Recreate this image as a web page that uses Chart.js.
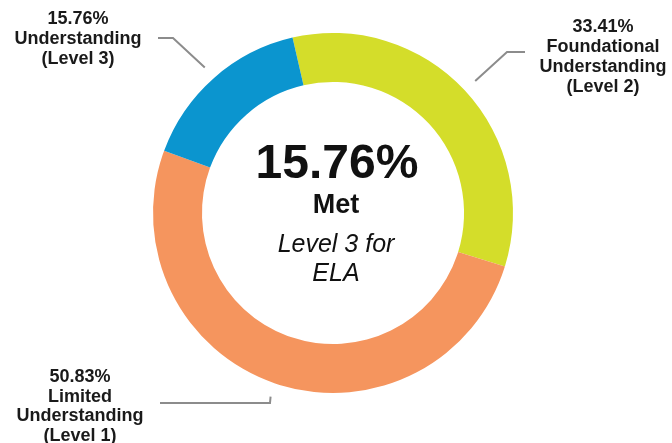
<!DOCTYPE html>
<html>
<head>
<meta charset="utf-8">
<script src="https://cdn.jsdelivr.net/npm/chart.js@4"></script>
<style>
  html, body { margin: 0; padding: 0; background: #ffffff; }
  #wrap { width: 672px; height: 443px; position: relative; }
</style>
</head>
<body>
<div id="wrap"><canvas id="elaChart" width="672" height="443"></canvas></div>
<script>
// ================================
// DATA
// ================================
const levels = ["Foundational Understanding (Level 2)", "Limited Understanding (Level 1)", "Understanding (Level 3)"];
const percents = [33.41, 50.83, 15.76];
const labelLines = [
  ["33.41%", "Foundational", "Understanding", "(Level 2)"],
  ["50.83%", "Limited", "Understanding", "(Level 1)"],
  ["15.76%", "Understanding", "(Level 3)"]
];
const colors = ["#d4dd2a", "#f5955e", "#0b95cf"];
const centerLines = ["15.76%", "Met", "Level 3 for", "ELA"];

// ================================
// LABEL LAYOUT (where callouts sit)
// ================================
const callouts = [
  { elbowX: 507, elbowY: 52, endX: 525, textX: 603, firstBase: 32, lineH: 20 },
  { elbowX: 270, elbowY: 403, endX: 160, textX: 80, firstBase: 382, lineH: 19.5 },
  { elbowX: 173, elbowY: 38, endX: 158, textX: 78, firstBase: 24, lineH: 20 }
];

const FONT = "'Liberation Sans', Arial, sans-serif";

// ================================
// CALLOUTS + CENTER TEXT PLUGIN
// ================================
const calloutPlugin = {
  id: "callouts",
  afterDraw(chart) {
    const ctx = chart.ctx;
    const meta = chart.getDatasetMeta(0);
    ctx.save();

    meta.data.forEach((arc, i) => {
      const c = callouts[i];
      const mid = (arc.startAngle + arc.endAngle) / 2;
      const r = arc.outerRadius + 14;
      const ax = arc.x + Math.cos(mid) * r;
      const ay = arc.y + Math.sin(mid) * r;

      ctx.strokeStyle = "#8c8c8c";
      ctx.lineWidth = 2;
      ctx.beginPath();
      ctx.moveTo(ax, ay);
      ctx.lineTo(c.elbowX, c.elbowY);
      ctx.lineTo(c.endX, c.elbowY);
      ctx.stroke();

      ctx.fillStyle = "#1a1a1a";
      ctx.font = "bold 18px " + FONT;
      ctx.textAlign = "center";
      ctx.textBaseline = "alphabetic";
      labelLines[i].forEach((t, k) => {
        ctx.fillText(t, c.textX, c.firstBase + k * c.lineH);
      });
    });

    // center text
    const cx = meta.data[0].x;
    const cy = meta.data[0].y;
    ctx.fillStyle = "#111111";
    ctx.textAlign = "center";
    ctx.textBaseline = "middle";

    ctx.font = "bold 48px " + FONT;
    ctx.fillText(centerLines[0], cx + 4, cy - 48);

    ctx.font = "bold 27px " + FONT;
    ctx.fillText(centerLines[1], cx + 3, cy - 7);

    ctx.font = "italic 25px " + FONT;
    ctx.fillText(centerLines[2], cx + 3, cy + 32);
    ctx.fillText(centerLines[3], cx + 3, cy + 61);

    ctx.restore();
  }
};

// ================================
// DOUGHNUT
// ================================
const canvas = document.getElementById("elaChart");

new Chart(canvas, {
  type: "doughnut",
  data: {
    labels: levels,
    datasets: [{
      data: percents,
      backgroundColor: colors,
      borderWidth: 0,
      hoverOffset: 0
    }]
  },
  options: {
    responsive: false,
    animation: false,
    rotation: -13,
    cutout: "72.8%",
    layout: { padding: { left: 153, right: 159, top: 33, bottom: 50 } },
    plugins: {
      legend: { display: false },
      tooltip: { enabled: false }
    }
  },
  plugins: [calloutPlugin]
});
</script>
</body>
</html>
